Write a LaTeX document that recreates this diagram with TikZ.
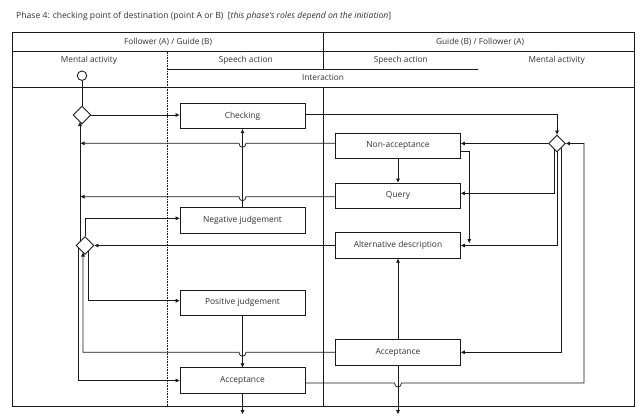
\documentclass[tikz,border=0pt]{standalone}
\usepackage{fontspec}
\setmainfont{Open Sans}
\usetikzlibrary{shapes.geometric,arrows.meta,calc}
\definecolor{ink}{HTML}{333333}
\definecolor{lin}{HTML}{1a1a1a}
\begin{document}
\begin{tikzpicture}[x=1pt,y=-1pt,
  box/.style={draw=lin,line width=0.85pt,fill=white,minimum width=125pt,minimum height=25.5pt,inner sep=0pt,font=\fontsize{8.4}{10}\selectfont,text=ink},
  dec/.style={diamond,draw=lin,line width=0.85pt,fill=white,minimum width=18pt,minimum height=18pt,inner sep=0pt},
  conn/.style={draw=lin,line width=0.75pt},
  arr/.style={conn,-{Triangle[length=4pt,width=3.6pt]}},
  lbl/.style={font=\fontsize{8.3}{10}\selectfont,text=ink,inner sep=0pt},
  tab/.style={draw=lin,line width=0.85pt}]
\useasboundingbox (0,0) rectangle (641,416);
\fill[white] (0,0) rectangle (641,416);

% title
\node[lbl,font=\fontsize{8.6}{10}\selectfont,anchor=west] (title) at (16,16.7) {Phase 4: checking point of destination (point A or B)\ \ [\textit{this phase’s roles depend on the initiation}]};

% table
\draw[tab] (12.7,32.3) rectangle (634.7,406);
\draw[tab] (12.7,51.7) -- (634.7,51.7);
\draw[tab] (12.7,87.3) -- (634.7,87.3);
\draw[tab] (323.3,32.3) -- (323.3,69.3);
\draw[tab] (323.3,87.3) -- (323.3,406);
\draw[tab] (167.3,69.3) -- (478,69.3);
\draw[draw=lin,line width=0.6pt,dash pattern=on 0.8pt off 0.8pt] (167.3,51.7) -- (167.3,406);

\node[lbl] (h1) at (168,41.7) {Follower (A) / Guide (B)};
\node[lbl] (h2) at (480,41.7) {Guide (B) / Follower (A)};
\node[lbl] (m1) at (89,60.5) {Mental activity};
\node[lbl] (s1) at (245.7,60.5) {Speech action};
\node[lbl] (s2) at (400.7,60.5) {Speech action};
\node[lbl] (m2) at (556.7,60.5) {Mental activity};
\node[lbl] (ia) at (323,77.5) {Interaction};

% nodes
\node[circle,draw=lin,line width=0.85pt,fill=white,minimum size=9.5pt,inner sep=0pt] (start) at (82,75.7) {};
\node[dec] (d1) at (82,115) {};
\node[dec] (d2) at (85,245.5) {};
\node[dec,minimum width=17pt,minimum height=17pt] (d3) at (557,143.5) {};

\node[box] (chk) at (242.5,116) {Checking};
\node[box] (neg) at (242.5,220.5) {Negative judgement};
\node[box] (pos) at (242.5,302.7) {Positive judgement};
\node[box] (accL) at (242.5,380.5) {Acceptance};
\node[box] (nacc) at (398,145.7) {Non-acceptance};
\node[box] (query) at (398,195.7) {Query};
\node[box] (alt) at (398,245.5) {Alternative description};
\node[box] (accR) at (398,352.3) {Acceptance};

% connectors
\draw[conn] (start.south) -- (d1.north);
\draw[arr] (d1.east) -- (d1.east -| chk.west);
\draw[arr] ([yshift=1.7pt]chk.east) -| (d3.north);
\draw[arr] (d3.west) -- (d3.west -| nacc.east);
\draw[arr] ([shift={(-3pt,-5.5pt)}]d3.center) |- ([yshift=2.4pt]query.east);
\draw[arr] (d3.south) |- (alt.east);
\draw[arr] ([shift={(4pt,-4.5pt)}]d3.center) |- (accR.east);
\draw[arr] ([yshift=-2.5pt]accL.east) -- (394.5,383)
   .. controls (394.5,388.3) and (401.5,388.3) .. (401.5,383)
   -- (584,383) -- (584,143.5) -- (d3.east);
\draw[arr] (nacc.south) -- (query.north);
\draw[arr] ([yshift=-6pt]nacc.east) -- (469.3,151.7) -- (469.3,243);
\draw[arr] (accR.north) -- (alt.south);
\draw[arr] (accR.south) -- (398,414);
\draw[arr] (accL.south) -- (242.5,414);
\draw[arr] ([yshift=2.4pt]nacc.west) -- (246,143.3)
   .. controls (246,148.6) and (239,148.6) .. (239,143.3) -- (80.6,143.3);
\draw[arr] ([yshift=-1pt]query.west) -- (246,196.7)
   .. controls (246,202) and (239,202) .. (239,196.7) -- (80.6,196.7);
\draw[arr] (alt.west) -- (d2.east);
\draw[arr] (accR.west) -- (246,352.3)
   .. controls (246,357.6) and (239,357.6) .. (239,352.3)
   -- (83,352.3) -- ([shift={(-2pt,-7pt)}]d2.center);
\draw[arr] ([shift={(-5pt,4pt)}]d2.center) -- ([shift={(-2pt,-7pt)}]d1.center);
\draw[arr] ([shift={(-6.3pt,-2.7pt)}]d2.center) |- (accL.west);
\draw[arr] (d2.north) |- ([yshift=2.2pt]neg.west);
\draw[arr] ([shift={(3.7pt,-5.3pt)}]d2.center) |- ([yshift=2pt]pos.west);
\draw[arr] (neg.north) -- (chk.south);
\draw[arr] (pos.south) -- (accL.north);
\end{tikzpicture}
\end{document}
